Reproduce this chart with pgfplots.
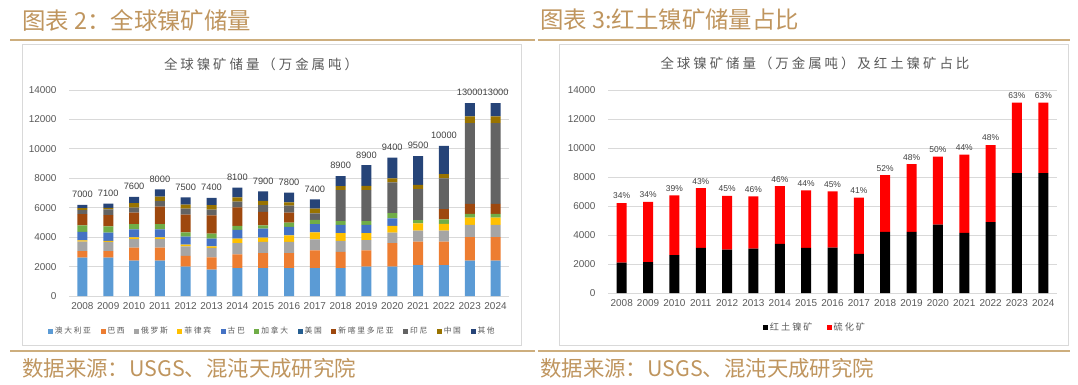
\documentclass[border=0pt]{standalone}
\usepackage{pgfplots}
\pgfplotsset{compat=1.18}
\usepackage{pgfplotstable}
\usepackage{fontspec}
\setmainfont{Liberation Sans}
\newfontfamily\cjk{Noto Sans CJK SC}
\newfontfamily\cjksp[LetterSpace=22]{Noto Sans CJK SC}

\definecolor{gold}{HTML}{BF955E}
\definecolor{goldline}{HTML}{CDAE7E}
\definecolor{boxc}{HTML}{D9D9D9}
\definecolor{gridc}{HTML}{D9D9D9}
\definecolor{tickc}{HTML}{595959}
\definecolor{labc}{HTML}{404040}
\definecolor{cau}{HTML}{5B9BD5}
\definecolor{cbr}{HTML}{ED7D31}
\definecolor{cru}{HTML}{A5A5A5}
\definecolor{cph}{HTML}{FFC000}
\definecolor{ccu}{HTML}{4472C4}
\definecolor{cca}{HTML}{70AD47}
\definecolor{cus}{HTML}{255E91}
\definecolor{cnc}{HTML}{9E480E}
\definecolor{cid}{HTML}{636363}
\definecolor{ccn}{HTML}{997300}
\definecolor{cot}{HTML}{264478}
\definecolor{cred}{HTML}{FF0000}

\pgfplotstableread{
year au br ru ph cu ca us nc id cn ot tot lbl
2008 2600 450 640 90 570 450 0 760 270 140 230 6200 7000
2009 2600 450 620 80 550 440 0 750 390 110 290 6280 7100
2010 2400 880 590 110 550 360 0 770 340 320 410 6730 7600
2011 2400 880 590 110 550 360 0 1180 380 300 500 7250 8000
2012 2000 730 650 110 540 300 0 1200 410 270 500 6710 7500
2013 1800 820 650 110 520 340 0 1240 390 300 500 6670 7400
2014 1900 930 770 300 590 270 0 1270 380 300 650 7360 8100
2015 1900 1020 750 300 610 220 0 910 470 280 650 7110 7900
2016 1900 1020 750 450 570 290 0 680 480 230 650 7020 7800
2017 1900 1200 750 480 560 280 0 0 450 320 630 6570 7400
2018 1900 1100 750 520 570 250 0 0 2100 280 680 8150 8900
2019 2000 1100 700 470 570 250 0 0 2100 300 1400 8890 8900
2020 2000 1600 700 460 520 360 0 0 2090 270 1400 9400 9400
2021 2100 1600 750 480 0 230 0 0 2100 300 1950 9510 9500
2022 2100 1600 750 450 0 300 0 700 2100 280 1920 10200 10000
2023 2400 1600 830 500 0 250 0 680 5490 450 910 13110 13000
2024 2400 1600 830 500 0 250 0 680 5490 450 910 13110 13000
}\leftdata

\pgfplotstableread{
year la su tot pct
2008 2100 4100 6200 34
2009 2130 4150 6280 34
2010 2620 4110 6730 39
2011 3110 4120 7230 43
2012 3000 3700 6700 45
2013 3060 3600 6660 46
2014 3390 3980 7370 46
2015 3110 3970 7080 44
2016 3130 3880 7010 45
2017 2700 3870 6570 41
2018 4220 3910 8130 52
2019 4220 4660 8880 48
2020 4720 4680 9400 50
2021 4150 5390 9540 44
2022 4880 5320 10200 48
2023 8270 4860 13130 63
2024 8270 4860 13130 63
}\rightdata

\pgfplotsset{
  mybars/.style={
    scale only axis, ybar stacked, bar width=10bp,
    ymin=0, ymax=14000, ytick={0,2000,...,14000},
    xtick={2008,...,2024}, xmin=2007.48, xmax=2024.52,
    axis line style={draw=none}, major tick length=0pt,
    ymajorgrids, grid style={color=gridc, line width=0.8bp},
    scaled y ticks=false,
    /pgf/number format/1000 sep={},
    /pgf/number format/assume math mode=true,
    tick label style={font=\fontsize{10}{12}\selectfont, text=tickc},
    yticklabel style={xshift=-9bp},
    xticklabel style={yshift=-3bp},
    clip=false,
    legend columns=-1,
    legend image code/.code={\fill[##1] (0bp,-2.5bp) rectangle (5bp,2.5bp);},
    every axis plot/.append style={draw=none},
  },
  labaxis/.style={
    scale only axis, ymin=0, ymax=14000, xmin=2007.48, xmax=2024.52,
    axis lines=none, ticks=none, clip=false,
  }
}

\begin{document}
\begin{tikzpicture}[x=1bp,y=1bp]
\path[use as bounding box] (0,0) rectangle (1078,384);

% headers
\node[anchor=west, inner sep=0, text=gold, font=\cjk\fontsize{23.5}{24}\selectfont] at (22,364) {图表 2：全球镍矿储量};
\node[anchor=west, inner sep=0, text=gold, font=\cjk\fontsize{23.5}{24}\selectfont] at (540,364) {图表 3:红土镍矿储量占比};
\draw[goldline, line width=1.3bp] (10,344) -- (535,344);
\draw[goldline, line width=1.3bp] (538,344) -- (1070,344);
\draw[goldline, line width=1.3bp] (10,33) -- (535,33);
\draw[goldline, line width=1.3bp] (538,33) -- (1070,33);
\node[anchor=west, inner sep=0, text=gold, font=\cjk\fontsize{21.5}{22}\selectfont] at (22,16) {数据来源：USGS、混沌天成研究院};
\node[anchor=west, inner sep=0, text=gold, font=\cjk\fontsize{21.5}{22}\selectfont] at (540,16) {数据来源：USGS、混沌天成研究院};

% boxes
\draw[boxc, line width=0.8bp] (22,39) rectangle (521,340);
\draw[boxc, line width=0.8bp] (559,39) rectangle (1068,340);

% titles
\node[text=tickc, font=\cjksp\fontsize{13.5}{14}\selectfont] at (261,320) {全球镍矿储量（万金属吨）};
\node[text=tickc, font=\cjksp\fontsize{13.5}{14}\selectfont] at (815,321) {全球镍矿储量（万金属吨）及红土镍矿占比};

% left chart
\begin{axis}[mybars, at={(69bp,88bp)}, anchor=south west, width=440bp, height=206bp,
  legend style={at={(0.462,-0.17)}, anchor=center, draw=none, fill=none,
    font=\cjksp\fontsize{7.8}{9}\selectfont, text=tickc,
    /tikz/every even column/.append style={column sep=7.5bp}},
]
\addplot[fill=cau] table[x=year,y=au]{\leftdata};
\addplot[fill=cbr] table[x=year,y=br]{\leftdata};
\addplot[fill=cru] table[x=year,y=ru]{\leftdata};
\addplot[fill=cph] table[x=year,y=ph]{\leftdata};
\addplot[fill=ccu] table[x=year,y=cu]{\leftdata};
\addplot[fill=cca] table[x=year,y=ca]{\leftdata};
\addplot[fill=cus] table[x=year,y=us]{\leftdata};
\addplot[fill=cnc] table[x=year,y=nc]{\leftdata};
\addplot[fill=cid] table[x=year,y=id]{\leftdata};
\addplot[fill=ccn] table[x=year,y=cn]{\leftdata};
\addplot[fill=cot] table[x=year,y=ot]{\leftdata};
\legend{澳大利亚,巴西,俄罗斯,菲律宾,古巴,加拿大,美国,新喀里多尼亚,印尼,中国,其他}
\end{axis}
\begin{axis}[labaxis, at={(69bp,88bp)}, anchor=south west, width=440bp, height=206bp]
\addplot[draw=none, mark=none, nodes near coords, point meta=explicit symbolic,
  nodes near coords style={anchor=south, font=\fontsize{9.3}{11}\selectfont, text=labc, yshift=3.5bp}]
  table[x=year,y=tot,meta=lbl]{\leftdata};
\end{axis}

% right chart
\begin{axis}[mybars, at={(608bp,91bp)}, anchor=south west, width=449bp, height=203bp,
  legend style={at={(0.461,-0.1675)}, anchor=center, draw=none, fill=none,
    font=\cjksp\fontsize{9.2}{10}\selectfont, text=tickc,
    /tikz/every even column/.append style={column sep=12bp}},
]
\addplot[fill=black] table[x=year,y=la]{\rightdata};
\addplot[fill=cred] table[x=year,y=su]{\rightdata};
\legend{红土镍矿,硫化矿}
\end{axis}
\begin{axis}[labaxis, at={(608bp,91bp)}, anchor=south west, width=449bp, height=203bp]
\addplot[draw=none, mark=none, nodes near coords, point meta=explicit symbolic,
  nodes near coords={\pgfplotspointmeta\%},
  nodes near coords style={anchor=south, font=\fontsize{8.5}{10}\selectfont, text=labc, yshift=0.5bp}]
  table[x=year,y=tot,meta=pct]{\rightdata};
\end{axis}
\end{tikzpicture}
\end{document}
